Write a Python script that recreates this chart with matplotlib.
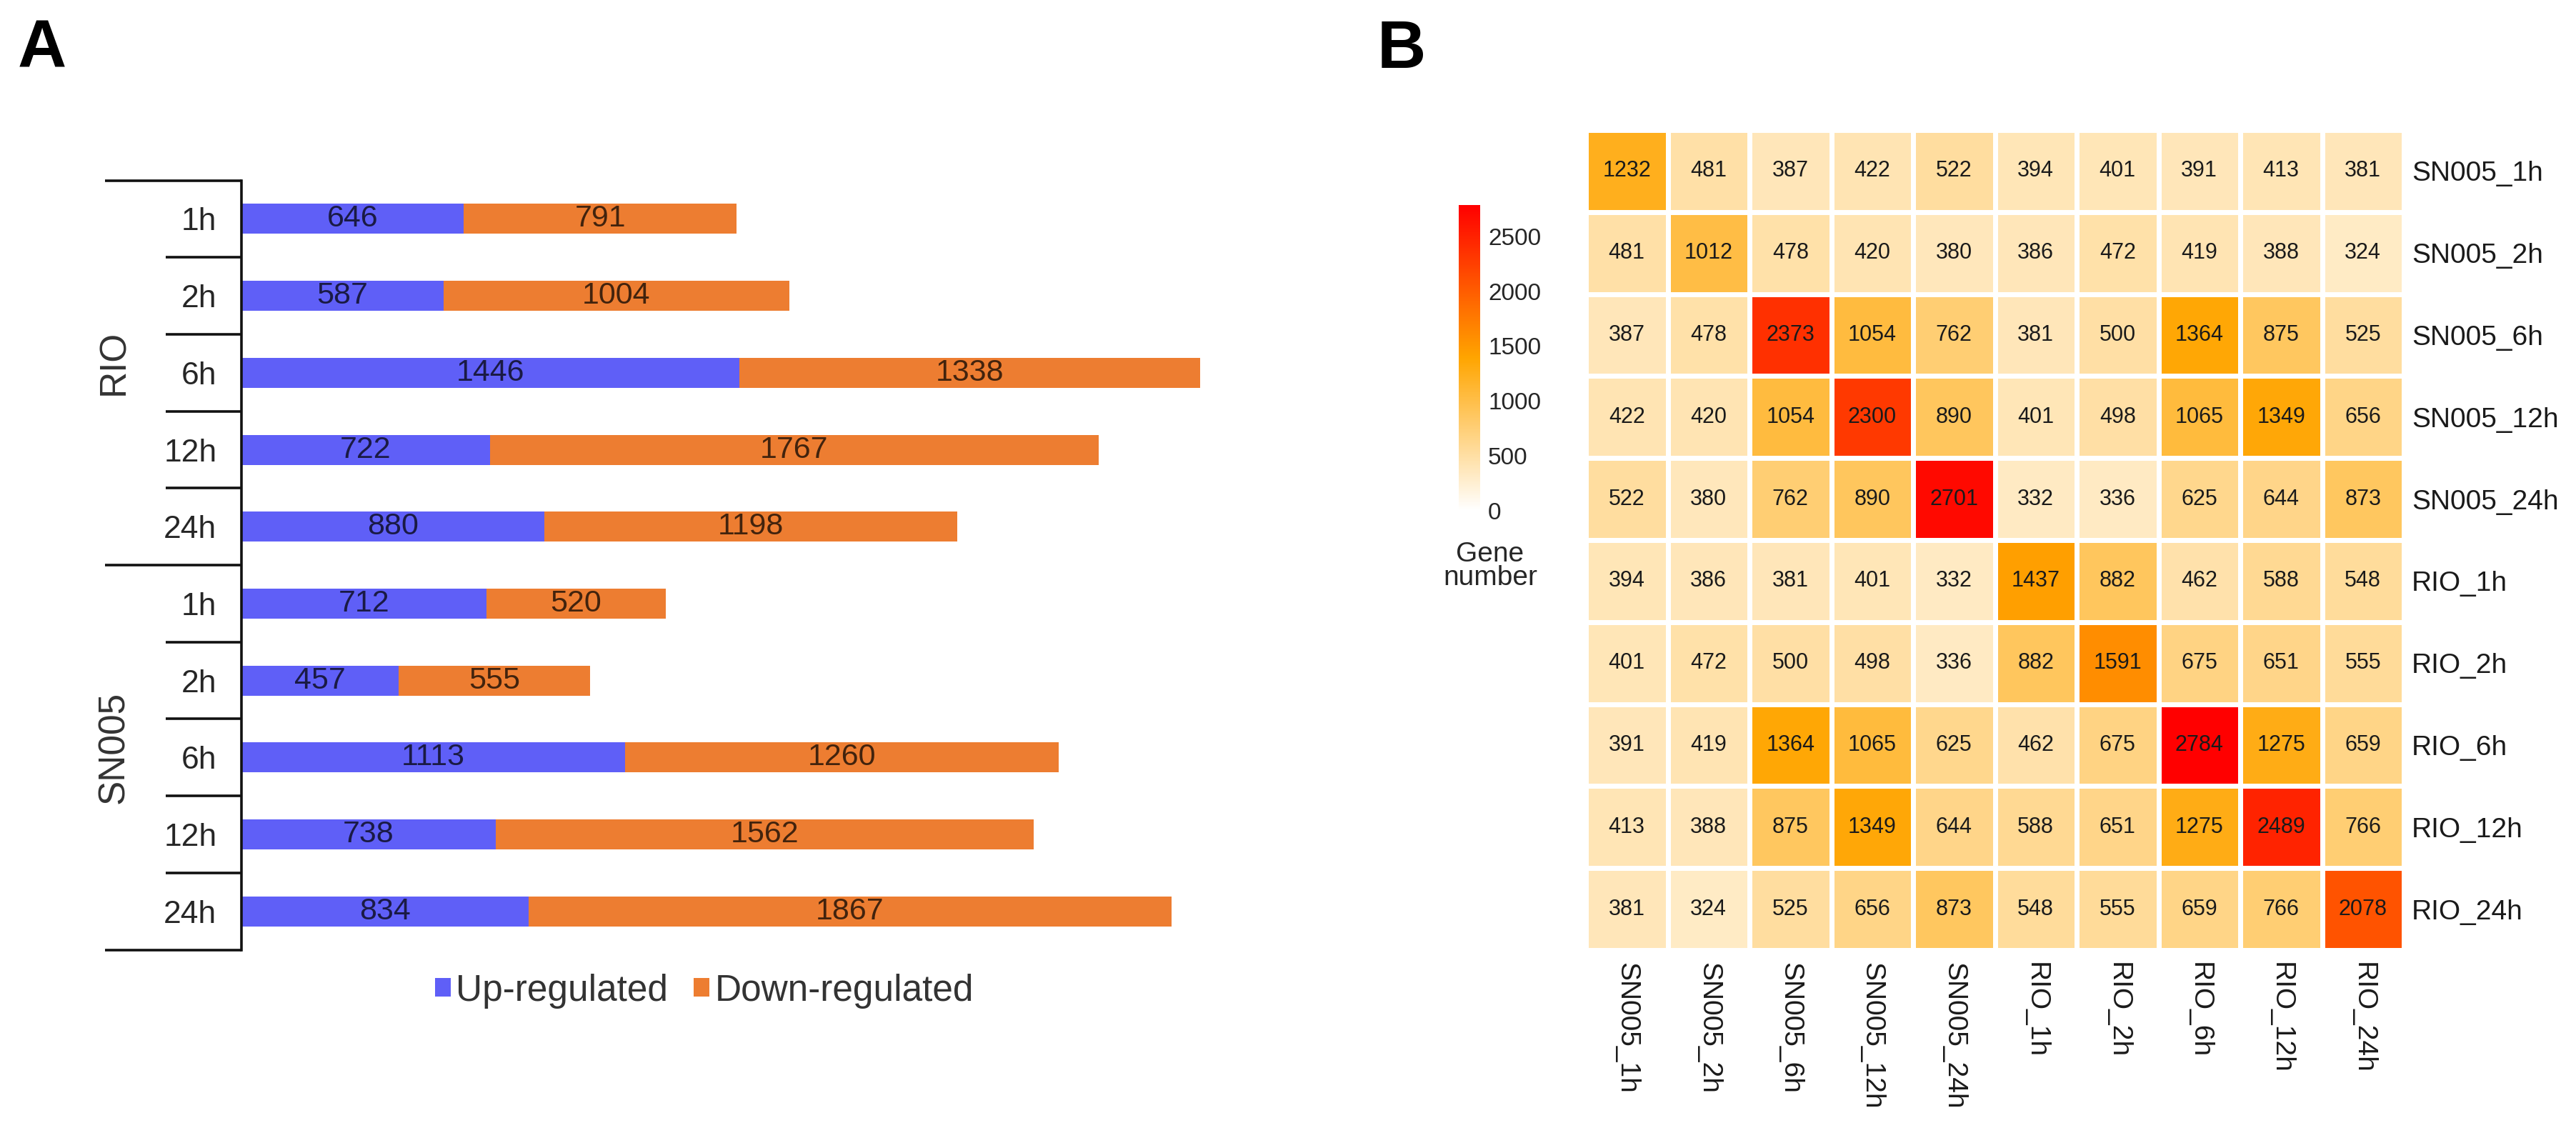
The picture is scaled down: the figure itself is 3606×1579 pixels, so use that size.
import numpy as np
import matplotlib
matplotlib.use('Agg')
import matplotlib.pyplot as plt
from matplotlib.colors import LinearSegmentedColormap, Normalize
from matplotlib.cm import ScalarMappable
from matplotlib.patches import Patch

# ---------------- data ----------------
groups = ['RIO', 'SN005']
hours = ['1h', '2h', '6h', '12h', '24h']
up_rio = [646, 587, 1446, 722, 880]
down_rio = [791, 1004, 1338, 1767, 1198]
up_sn005 = [712, 457, 1113, 738, 834]
down_sn005 = [520, 555, 1260, 1562, 1867]
legend_labels = ['Up-regulated', 'Down-regulated']

samples = ['SN005_1h', 'SN005_2h', 'SN005_6h', 'SN005_12h', 'SN005_24h',
           'RIO_1h', 'RIO_2h', 'RIO_6h', 'RIO_12h', 'RIO_24h']
row_sn005_1h = [1232, 481, 387, 422, 522, 394, 401, 391, 413, 381]
row_sn005_2h = [481, 1012, 478, 420, 380, 386, 472, 419, 388, 324]
row_sn005_6h = [387, 478, 2373, 1054, 762, 381, 500, 1364, 875, 525]
row_sn005_12h = [422, 420, 1054, 2300, 890, 401, 498, 1065, 1349, 656]
row_sn005_24h = [522, 380, 762, 890, 2701, 332, 336, 625, 644, 873]
row_rio_1h = [394, 386, 381, 401, 332, 1437, 882, 462, 588, 548]
row_rio_2h = [401, 472, 500, 498, 336, 882, 1591, 675, 651, 555]
row_rio_6h = [391, 419, 1364, 1065, 625, 462, 675, 2784, 1275, 659]
row_rio_12h = [413, 388, 875, 1349, 644, 588, 651, 1275, 2489, 766]
row_rio_24h = [381, 324, 525, 656, 873, 548, 555, 659, 766, 2078]
cbar_ticks = [0, 500, 1000, 1500, 2000, 2500]

# ---------------- setup ----------------
plt.rcParams['font.family'] = ['Liberation Sans', 'DejaVu Sans']
W, H = 3606, 1579
fig = plt.figure(figsize=(W / 100, H / 100), dpi=100)


def px_axes(l, t, r, b):
    return fig.add_axes([l / W, 1 - b / H, (r - l) / W, (b - t) / H])


BLUE = '#5F5FF7'
ORANGE = '#ED7D31'
TXT = '#262626'

# ---------------- panel A ----------------
ups = up_rio + up_sn005
downs = down_rio + down_sn005
labels_h = hours + hours
n = len(ups)
ypos = np.arange(n)

ax_l, ax_r = 338, 1736
axA = px_axes(ax_l, 252.6, ax_r, 1329.6)
axA.barh(ypos, ups, height=0.39, color=BLUE)
axA.barh(ypos, downs, left=ups, height=0.39, color=ORANGE)
for i in range(n):
    axA.text(ups[i] / 2, i, str(ups[i]), ha='center', va='center',
             fontsize=31, color='black', alpha=0.72)
    axA.text(ups[i] + downs[i] / 2, i, str(downs[i]), ha='center', va='center',
             fontsize=31, color='black', alpha=0.72)
axA.set_xlim(0, 2900)
axA.set_ylim(n - 0.5, -0.5)
axA.set_xticks([])
axA.set_yticks(ypos)
axA.set_yticklabels(labels_h, fontsize=32, color=TXT)
axA.tick_params(axis='y', length=0, pad=25)
for s in ['top', 'right', 'bottom']:
    axA.spines[s].set_visible(False)
axA.spines['left'].set_linewidth(2.6)
axA.spines['left'].set_color('#111111')

wpx = ax_r - ax_l
x_long = (147 - ax_l) / wpx
x_short = (232 - ax_l) / wpx
trans = axA.get_yaxis_transform()
for k in range(n + 1):
    y = k - 0.5
    x0 = x_long if k % len(hours) == 0 else x_short
    axA.plot([x0, 0], [y, y], color='#111111', lw=2.6, transform=trans,
             clip_on=False, solid_capstyle='butt')

x_grp = (160 - ax_l) / wpx
for g, name in enumerate(groups):
    yc = g * len(hours) + (len(hours) - 1) / 2 - 0.13
    axA.text(x_grp, yc, name, rotation=90, ha='center', va='center',
             fontsize=37, color='#333333', transform=trans, clip_on=False)

handles = [Patch(facecolor=BLUE, edgecolor='none'),
           Patch(facecolor=ORANGE, edgecolor='none')]
leg = axA.legend(handles, legend_labels, loc='center',
                 bbox_to_anchor=(986 / W, 1 - 1387 / H), bbox_transform=fig.transFigure,
                 ncol=2, frameon=False, fontsize=37, handlelength=0.42,
                 handleheight=0.42, handletextpad=0.15, columnspacing=0.7,
                 borderpad=0, borderaxespad=0)
for t in leg.get_texts():
    t.set_color('#333333')

# ---------------- panel B ----------------
M = np.array([row_sn005_1h, row_sn005_2h, row_sn005_6h, row_sn005_12h, row_sn005_24h,
              row_rio_1h, row_rio_2h, row_rio_6h, row_rio_12h, row_rio_24h])
cmap = LinearSegmentedColormap.from_list('wor', ['#FFFFFF', '#FFA500', '#FF0000'])
norm = Normalize(vmin=0, vmax=M.max())

axB = px_axes(2220, 182, 3365, 1330)
m = len(samples)
axB.pcolormesh(np.arange(m + 1), np.arange(m + 1), M, cmap=cmap, norm=norm,
               edgecolors='white', linewidth=4.8)
for i in range(m):
    for j in range(m):
        axB.text(j + 0.5, i + 0.5, str(M[i, j]), ha='center', va='center',
                 fontsize=22, color='#1a1a1a')
axB.set_xlim(0, m)
axB.set_ylim(m, 0)
for s in axB.spines.values():
    s.set_visible(False)
axB.yaxis.tick_right()
axB.set_yticks(np.arange(m) + 0.5)
axB.set_yticklabels(samples, fontsize=28, color='#1a1a1a')
axB.set_xticks(np.arange(m) + 0.5)
axB.set_xticklabels(samples, fontsize=28, color='#1a1a1a', rotation=270)
axB.tick_params(axis='y', length=0, pad=8)
axB.tick_params(axis='x', length=0, pad=12)

cax = px_axes(2042, 287, 2072, 715)
cb = fig.colorbar(ScalarMappable(norm=norm, cmap=cmap), cax=cax)
cb.outline.set_visible(False)
cb.set_ticks(cbar_ticks)
cax.tick_params(length=0, pad=8, labelsize=24, labelcolor='#262626')
fig.text(2086 / W, 1 - 786 / H, 'Gene', ha='center', va='baseline',
         fontsize=28, color='#262626')
fig.text(2086 / W, 1 - 819 / H, 'number', ha='center', va='baseline',
         fontsize=28, color='#262626')

# ---------------- panel letters ----------------
fig.text(25 / W, 1 - 95 / H, 'A', fontsize=68, fontweight='bold', va='baseline')
fig.text(1928 / W, 1 - 95 / H, 'B', fontsize=68, fontweight='bold', va='baseline')

fig.savefig('out.png', dpi=100, facecolor='white')
